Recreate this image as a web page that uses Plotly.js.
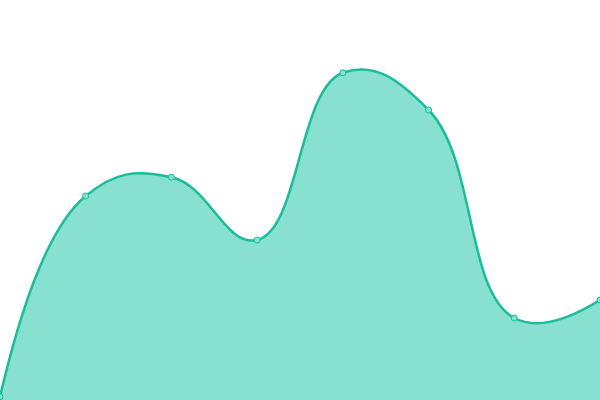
<!DOCTYPE html>
<html><head><meta charset="utf-8">
<script src="https://cdn.plot.ly/plotly-3.0.1.min.js"></script>
<style>html,body{margin:0;padding:0;background:#fff}#chart{width:600px;height:400px}</style>
</head><body><div id="chart"></div>
<script>
var xValues = [0, 1, 2, 3, 4, 5, 6, 7];
var yValues = [0.8, 51, 55.7, 40, 81.8, 72.5, 20.5, 25];

Plotly.newPlot('chart', [{
  x: xValues, y: yValues,
  type: 'scatter', mode: 'lines+markers',
  fill: 'tozeroy', fillcolor: '#88e0d0',
  line: {shape: 'spline', smoothing: 1.25, color: '#1abc9c', width: 2.5},
  marker: {size: 6, color: '#88e0d0', line: {color: '#1abc9c', width: 1}},
  cliponaxis: false, hoverinfo: 'none'
}], {
  width: 600, height: 400,
  margin: {l: 0, r: 0, t: 0, b: 0},
  paper_bgcolor: '#fff', plot_bgcolor: '#fff',
  showlegend: false,
  xaxis: {range: [0, 7], visible: false, fixedrange: true},
  yaxis: {range: [0, 100], visible: false, fixedrange: true}
}, {staticPlot: true, displayModeBar: false});
</script></body></html>
